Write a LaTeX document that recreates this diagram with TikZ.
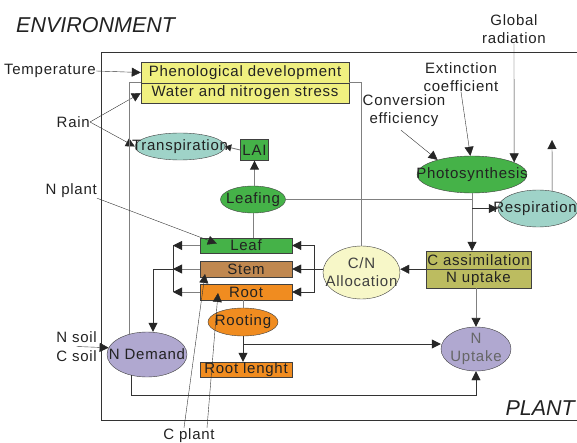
\documentclass[tikz,border=0pt]{standalone}
\usepackage{fontspec}
\setmainfont{Liberation Sans}
\newfontfamily\lblfont[LetterSpace=5]{Liberation Sans}
\usetikzlibrary{shapes.geometric,arrows.meta,calc}
\definecolor{txt}{HTML}{222222}
\definecolor{ln}{HTML}{333333}
\definecolor{gln}{HTML}{808080}
\definecolor{yel}{HTML}{F0F080}
\definecolor{tealc}{HTML}{9FD3C8}
\definecolor{grn}{HTML}{45B248}
\definecolor{brn}{HTML}{C08850}
\definecolor{org}{HTML}{F08C20}
\definecolor{lav}{HTML}{B0A8D0}
\definecolor{cream}{HTML}{F7F7C8}
\definecolor{olv}{HTML}{BCBC60}
\begin{document}
\begin{tikzpicture}[x=1pt,y=-1pt,
  lbl/.style={font=\lblfont\fontsize{15}{18}\selectfont, text=txt, align=center, inner sep=0},
  box/.style={rectangle, draw=black!75, fill=#1, inner sep=0, font=\lblfont\fontsize{15}{18}\selectfont, text=txt},
  ell/.style n args={3}{ellipse, draw=black!75, fill=#1, minimum width=#2, minimum height=#3, inner sep=0},
  arr/.style={draw=ln, -{Triangle[length=9pt,width=9pt,color=black!85]}},
  garr/.style={draw=gln, line width=0.9pt, -{Triangle[length=9pt,width=9pt,color=black!85]}},
  sarr/.style={draw=gln, line width=0.9pt, -{Triangle[length=6pt,width=7pt,color=black!85]}},
  gline/.style={draw=gln, line width=0.9pt},
  dline/.style={draw=ln}
]
\useasboundingbox (0,0) rectangle (577,443);

% frame and titles
\draw[draw=ln] (577,52) -- (101,52) -- (101,420) -- (577,420);
\node[anchor=base west, font=\fontsize{21.5}{24}\selectfont\itshape, text=txt, inner sep=0] (env) at (16,32.3) {ENVIRONMENT};
\node[anchor=base east, font=\fontsize{21.5}{24}\selectfont\itshape, text=txt, inner sep=0] (plant) at (575,415) {PLANT};

% boxes and ellipses
\node[box=yel, minimum width=208, minimum height=21] (phen) at (245,72.5) {Phenological development};
\node[box=yel, minimum width=208, minimum height=20] (stress) at (245,93) {Water and nitrogen stress};
\node[ell={tealc}{90}{27}, label={[lbl]center:Transpiration}] (trans) at (180,146.5) {};
\node[box=grn, minimum width=28, minimum height=21] (lai) at (254.5,150) {LAI};
\node[ell={grn}{65}{27}, label={[lbl]center:Leafing}] (leafing) at (253,199.5) {};
\node[ell={grn}{110}{37}, label={[lbl]center:Photosynthesis}] (photo) at (472,174.5) {};
\node[ell={tealc}{80}{37}, label={[lbl, xshift=-3pt]center:Respiration}] (resp) at (538,208.5) {};
\node[box=grn, minimum width=92, minimum height=15] (leaf) at (246,245.5) {Leaf};
\node[box=brn, minimum width=92, minimum height=16] (stem) at (246,269) {Stem};
\node[box=org, minimum width=92, minimum height=16] (root) at (246,292) {Root};
\node[ell={org}{70}{28}, label={[lbl]center:Rooting}] (rooting) at (243,322) {};
\node[box=org, minimum width=92, minimum height=15] (rootl) at (246,369.5) {Root lenght};
\node[ell={lav}{80}{45}, label={[lbl]center:N Demand}] (ndem) at (147,354.5) {};
\node[ell={cream}{77}{53}, label={[lbl, text=black!75]center:C/N\\Allocation}] (cn) at (361.5,272.5) {};
\node[box=olv, minimum width=105, minimum height=18] (cassim) at (478.5,260) {C assimilation};
\node[box=olv, minimum width=105, minimum height=19] (nupt) at (478.5,278.5) {N uptake};
\node[ell={lav}{70}{44}, label={[lbl, text=black!60]center:N\\Uptake}] (nupk) at (476,349) {};

% free texts
\node[lbl, anchor=east] (temp) at (96,71) {Temperature};
\node[lbl, anchor=east] (rain) at (90,122) {Rain};
\node[lbl, anchor=east] (nplant) at (97,191) {N plant};
\node[lbl, anchor=east] (nsoil) at (97,337) {N soil};
\node[lbl, anchor=east] (csoil) at (97,356) {C soil};
\node[lbl] (cplant) at (189,436) {C plant};
\node[lbl] (global) at (514,29) {Global\\radiation};
\node[lbl] (ext) at (461,77) {Extinction\\coefficient};
\node[lbl] (conv) at (404,111) {Conversion\\efficiency};

\coordinate (respout) at (552,140);
\coordinate (brL) at (173,0);
\coordinate (brR) at (314,0);
\coordinate (ndx) at (153,0);
\coordinate (bot) at (0,395);
\coordinate (rj) at (243,344);

% connectors
\draw[arr] (temp.east) -- (phen.west);
\draw[arr] (rain.east) -- (stress.west);
\draw[arr] (rain.east) -- (trans.west);
\draw[gline] (ndem.130) |- (stress.north west);
\draw[sarr] (lai.west) -- (trans.east);
\draw[garr] (lai.south |- leafing.north) -- (lai.south);
\draw[gline] (leafing.south) -- (leafing.south |- leaf.north);
\draw[gline] (leafing.east) -- (leafing.east -| photo.south);
\draw[garr] (photo.south) -- (photo.south |- cassim.north);
\draw[arr] (photo.south |- resp.west) -- (resp.west);
\draw[arr] (resp.51) -- (respout);
\draw[arr] (global.south) -- (photo.16);
\draw[arr] (ext.south) -- (photo.95);
\draw[arr] ($(conv.south)+(-3,3)$) -- (photo.157);
\draw[gline] (stress.north east) -| (cn.north);
\draw[arr] (cassim.south west) -- (cassim.south west -| cn.east);
\draw[garr] (nupk.north |- nupt.south) -- (nupk.north);

% C/N allocation to organs
\draw[arr] (stem.east -| cn.west) -- (stem.east);
\draw[arr] (brR |- stem.east) |- (leaf.east);
\draw[arr] (brR |- stem.east) |- (root.east);

% organs to N demand
\draw[garr] (leaf.west) -- (leaf.west -| brL);
\draw[garr] (stem.west) -- (stem.west -| brL);
\draw[garr] (root.west) -- (root.west -| brL);
\draw[dline] (brL |- leaf.west) -- (brL |- root.west);
\draw[arr] (brL |- stem.west) -| (ndx |- ndem.north);

% rooting
\draw[gline] (rooting.north |- root.south) -- (rooting.north);
\draw[arr] (rooting.south) -- (rooting.south |- rootl.north);
\draw[arr] (rj) -- (rj -| nupk.west);
\draw[arr] (ndem.232) -- (ndem.232 |- bot) -| (nupk.south);

% external inputs
\draw[arr] ($(nsoil.south)!0.5!(csoil.north)$) -- (ndem.170);
\draw[arr] (nplant.south east) -- ($(leaf.west)+(17,-2)$);
\draw[arr] ($(cplant.north)+(-5,-1)$) -- ($(stem.center)+(-41,5)$);
\draw[arr] ($(cplant.north)+(18,-1)$) -- ($(root.center)+(-28,1)$);
\end{tikzpicture}
\end{document}
